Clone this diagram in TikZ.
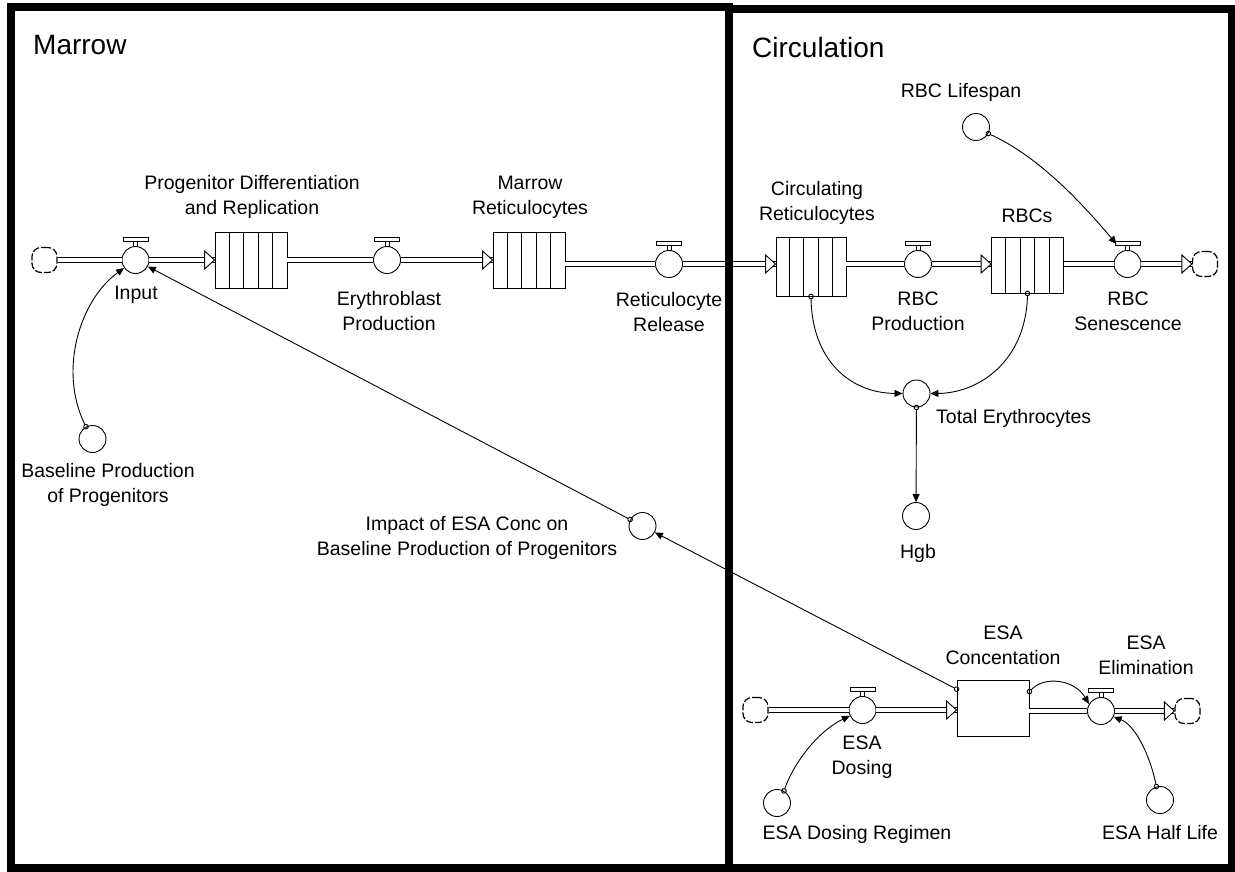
\documentclass[tikz,border=0pt]{standalone}
\usepackage{fontspec}
\setmainfont{Liberation Sans}
\usetikzlibrary{calc}
\usetikzlibrary{arrows.meta}

\tikzset{
  lbl/.style={font=\fontsize{19.5}{25}\selectfont, align=center, inner sep=0pt},
  ttl/.style={font=\fontsize{28}{32}\selectfont, inner sep=0pt, anchor=west},
  valve/.style={draw, circle, line width=0.9pt, minimum size=27pt, inner sep=0pt, fill=white},
  aux/.style={draw, circle, line width=0.9pt, minimum size=27pt, inner sep=0pt},
  stock/.style={draw, rectangle, line width=0.9pt, minimum width=72pt, minimum height=56pt, inner sep=0pt},
  sink/.style={draw, rectangle, rounded corners=9pt, dash pattern=on 7pt off 2pt, line width=1.2pt, minimum size=25pt, inner sep=0pt},
  pipe/.style={draw=black, double=white, double distance=3.2pt, line width=1.1pt},
  link/.style={line width=0.9pt, {Circle[open,length=5.5pt,width=5.5pt]}-{Triangle[length=8pt,width=7pt]}, shorten <=-2.75pt},
  sector/.style={line width=8.5pt},
}

\begin{document}
\begin{tikzpicture}[x=1pt, y=-1pt]
\useasboundingbox (0,0) rectangle (1235,871);

% stocks
\node[stock] (pdr) at (251,260) {};
\node[stock] (mret) at (529,260.5) {};
\node[stock, minimum width=70pt, minimum height=59pt] (cret) at (811,266.5) {};
\node[stock] (rbc) at (1027.5,265) {};
\node[stock] (esa) at (993,708) {};
\foreach \s in {pdr,mret,cret,rbc}
  \foreach \k in {1,...,4}
    \draw[line width=0.9pt] ($(\s.north west)!\k/5!(\s.north east)$) -- ($(\s.south west)!\k/5!(\s.south east)$);

% sources and sinks
\node[sink] (cl1) at (44.5,260) {};
\node[sink] (cl2) at (1205,264) {};
\node[sink] (cl3) at (755.5,710) {};
\node[sink] (cl4) at (1187.5,711) {};

% flows
\node[valve] (inp) at (135.5,260) {};
\node[valve] (ery) at (387,260) {};
\node[valve] (rrel) at (669,264) {};
\node[valve] (rprod) at (918,264) {};
\node[valve] (rsen) at (1127.5,264) {};
\node[valve] (esd) at (862.5,710) {};
\node[valve] (elim) at (1101,711) {};
\foreach \v in {inp,ery,rrel,rprod,rsen,esd,elim} {
  \draw[line width=0.9pt, fill=white] ($(\v.north)+(-2,0)$) rectangle ($(\v.north)+(2,-5)$);
  \draw[line width=0.9pt, fill=white] ($(\v.north)+(-12.5,-5)$) rectangle ($(\v.north)+(12.5,-8.5)$);
}

% converters
\node[aux] (rls) at (976,127) {};
\node[aux] (tot) at (916.5,393.5) {};
\node[aux] (hgb) at (916,516) {};
\node[aux] (bpp) at (92.5,439) {};
\node[aux] (imp) at (642.5,526) {};
\node[aux] (edr) at (777,803) {};
\node[aux] (ehl) at (1160,800) {};

% pipes
\draw[pipe] (cl1) -- (inp);
\draw[pipe] (inp) -- (inp -| pdr.west) coordinate (h1);
\draw[pipe] (pdr.east |- ery) -- (ery);
\draw[pipe] (ery) -- (ery -| mret.west) coordinate (h2);
\draw[pipe] (mret.east |- rrel) -- (rrel);
\draw[pipe] (rrel) -- (rrel -| cret.west) coordinate (h3);
\draw[pipe] (cret.east |- rprod) -- (rprod);
\draw[pipe] (rprod) -- (rprod -| rbc.west) coordinate (h4);
\draw[pipe] (rbc.east |- rsen) -- (rsen);
\draw[pipe] (rsen) -- (rsen -| cl2.west) coordinate (h5);
\draw[pipe] (cl3) -- (esd);
\draw[pipe] (esd) -- (esd -| esa.west) coordinate (h6);
\draw[pipe] (esa.east |- elim) -- (elim);
\draw[pipe] (elim) -- (elim -| cl4.west) coordinate (h7);
\foreach \i in {1,...,7}
  \draw[line width=0.9pt, fill=white] (h\i) -- ++(-10,-9) -- ++(0,18) -- cycle;

% connectors
\draw[link] (bpp.118) .. controls (58,370) and (80,300) .. (inp.215);
\draw[link] (imp) -- (inp);
\draw[link] (esa) -- (imp);
\draw[link] (rls.-28) .. controls (1035,155) and (1075,195) .. ($(rsen.north)+(-11,-6)$);
\draw[link] (cret.south) .. controls (812,360) and (850,393) .. (tot.west);
\draw[link] (rbc.south) .. controls (1026,360) and (980,393) .. (tot.east);
\draw[link] (tot) -- (hgb);
\draw[link] ($(esa.north east)+(0,12)$) .. controls (1045,675) and (1075,680) .. (elim.150);
\draw[link] (edr.60) .. controls (795,760) and (820,730) .. (esd.205);
\draw[link] (ehl.105) .. controls (1150,755) and (1135,725) .. (elim.-25);

% labels
\node[ttl] (marT) at (33,45) {Marrow};
\node[ttl] (cirT) at (752,47) {Circulation};
\node[lbl] (pdrL) at (252,197) {Progenitor Differentiation\\and Replication};
\node[lbl] (mretL) at (530,197) {Marrow\\Reticulocytes};
\node[lbl] (inpL) at (136,295) {Input};
\node[lbl] (eryL) at (389,311) {Erythroblast\\Production};
\node[lbl] (rrelL) at (669,312) {Reticulocyte\\Release};
\node[lbl] (cretL) at (817,203) {Circulating\\Reticulocytes};
\node[lbl] (rbcL) at (1027,216) {RBCs};
\node[lbl] (rprodL) at (918,311) {RBC\\Production};
\node[lbl] (rsenL) at (1128,311) {RBC\\Senescence};
\node[lbl] (rlsL) at (961,92) {RBC Lifespan};
\node[lbl, anchor=west] (totL) at (936,418) {Total Erythrocytes};
\node[lbl] (hgbL) at (918,553) {Hgb};
\node[lbl] (bppL) at (108,485) {Baseline Production\\of Progenitors};
\node[lbl] (impL) at (467,538) {Impact of ESA Conc on\\Baseline Production of Progenitors};
\node[lbl] (esaL) at (1003,645) {ESA\\Concentation};
\node[lbl] (elimL) at (1146,655) {ESA\\Elimination};
\node[lbl] (esdL) at (862,757) {ESA\\Dosing};
\node[lbl] (edrL) at (857,834) {ESA Dosing Regimen};
\node[lbl] (ehlL) at (1160,833) {ESA Half Life};

% sectors
\draw[sector] (11,7) rectangle (729,868);
\draw[sector] (729,9) rectangle (1232,868);
\end{tikzpicture}
\end{document}
